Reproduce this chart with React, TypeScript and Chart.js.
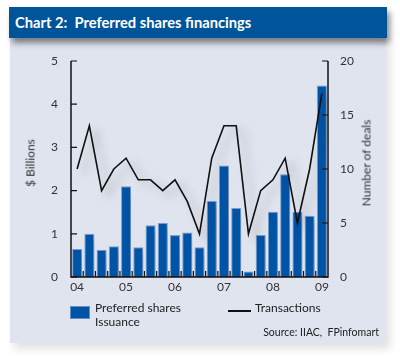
import React, { useEffect, useRef } from "react";
import { Chart, registerables } from "chart.js";

Chart.register(...registerables);

const quarters = [
  "2004Q1", "2004Q2", "2004Q3", "2004Q4",
  "2005Q1", "2005Q2", "2005Q3", "2005Q4",
  "2006Q1", "2006Q2", "2006Q3", "2006Q4",
  "2007Q1", "2007Q2", "2007Q3", "2007Q4",
  "2008Q1", "2008Q2", "2008Q3", "2008Q4",
  "2009Q1",
];
const yearLabels = ["04", "05", "06", "07", "08", "09"];
const issuance = [0.65, 1.0, 0.63, 0.71, 2.1, 0.69, 1.2, 1.25, 0.97, 1.03, 0.69, 1.76, 2.58, 1.6, 0.13, 0.97, 1.51, 2.38, 1.51, 1.42, 4.43];
const transactions = [10, 14, 8, 10, 11, 9, 9, 8, 9, 7, 4, 11, 14, 14, 4, 8, 9, 11, 5, 10, 17];
const leftTicks = [0, 1, 2, 3, 4, 5];
const rightTicks = [0, 5, 10, 15, 20];

const FONT = "Lato, 'Open Sans', sans-serif";
const BLUE = "#0153a6";

const axisPlugin = {
  id: "axisDeco",
  beforeDatasetsDraw(chart: any) {
    const ctx = chart.ctx;
    ctx.save();
    ctx.shadowColor = "rgba(60,60,70,0.35)";
    ctx.shadowBlur = 8;
    ctx.shadowOffsetX = 7;
    ctx.shadowOffsetY = 5;
  },
  afterDatasetsDraw(chart: any) {
    chart.ctx.restore();
  },
  afterDraw(chart: any) {
    const { ctx, chartArea } = chart;
    const { left, right, top, bottom } = chartArea;
    const yL = chart.scales.y;
    const yR = chart.scales.y1;
    const x = chart.scales.x;
    ctx.save();
    ctx.strokeStyle = "#111";
    ctx.lineWidth = 1.5;
    ctx.beginPath();
    ctx.moveTo(left, top);
    ctx.lineTo(left, bottom);
    ctx.lineTo(right, bottom);
    ctx.lineTo(right, top);
    ctx.stroke();
    ctx.lineWidth = 1.2;
    ctx.beginPath();
    leftTicks.forEach((v) => {
      const py = yL.getPixelForValue(v);
      ctx.moveTo(left, py);
      ctx.lineTo(left + 6, py);
    });
    rightTicks.forEach((v) => {
      const py = yR.getPixelForValue(v);
      ctx.moveTo(right, py);
      ctx.lineTo(right - 6, py);
    });
    for (let i = 1; i < quarters.length; i++) {
      const px = (x.getPixelForValue(i - 1) + x.getPixelForValue(i)) / 2;
      ctx.moveTo(px, bottom);
      ctx.lineTo(px, bottom - 6);
    }
    ctx.stroke();
    ctx.restore();
  },
};

export default function App() {
  const ref = useRef<HTMLCanvasElement | null>(null);
  useEffect(() => {
    if (!ref.current) return;
    const chart = new Chart(ref.current, {
      type: "bar",
      data: {
        labels: quarters,
        datasets: [
          {
            type: "line",
            label: "Transactions",
            data: transactions,
            yAxisID: "y1",
            borderColor: "#111",
            borderWidth: 1.6,
            pointRadius: 0,
            tension: 0,
            order: 0,
          },
          {
            type: "bar",
            label: "Preferred shares Issuance",
            data: issuance,
            yAxisID: "y",
            backgroundColor: BLUE,
            borderColor: "rgba(110,150,205,0.9)",
            borderWidth: 1,
            barPercentage: 0.82,
            categoryPercentage: 1,
            order: 1,
          },
        ],
      },
      options: {
        animation: false,
        responsive: false,
        maintainAspectRatio: false,
        layout: { padding: { left: 0, right: 0, top: 61, bottom: 61 } },
        plugins: { legend: { display: false }, tooltip: { enabled: false } },
        scales: {
          x: {
            offset: true,
            grid: { display: false, drawTicks: false },
            border: { display: false },
            afterFit: (s: any) => { s.height = 20; },
            ticks: {
              autoSkip: false,
              maxRotation: 0,
              padding: 3,
              color: "#333",
              font: { family: FONT, size: 12 },
              callback: (_v: any, i: number) => (i % 4 === 0 ? yearLabels[i / 4] : ""),
            },
          },
          y: {
            position: "left",
            min: 0,
            max: 5,
            grid: { display: false, drawTicks: false },
            border: { display: false },
            afterFit: (s: any) => { s.width = 71; },
            ticks: {
              stepSize: 1,
              padding: 13,
              color: "#333",
              font: { family: FONT, size: 12 },
            },
          },
          y1: {
            position: "right",
            min: 0,
            max: 20,
            grid: { display: false, drawTicks: false },
            border: { display: false },
            afterFit: (s: any) => { s.width = 72; },
            ticks: {
              stepSize: 5,
              padding: 12,
              color: "#333",
              font: { family: FONT, size: 12 },
            },
          },
        },
      },
      plugins: [axisPlugin],
    });
    return () => chart.destroy();
  }, []);

  const text: React.CSSProperties = { position: "absolute", fontFamily: FONT, color: "#222", whiteSpace: "nowrap" };

  return (
    <div style={{ position: "fixed", left: 0, top: 0, width: 400, height: 358, background: "#fff", overflow: "hidden" }}>
      <div style={{ position: "absolute", left: 10, top: 37, width: 376, height: 306, background: "#dfe4ee", boxShadow: "4px 6px 8px rgba(0,0,0,0.12)" }} />
      <div style={{ position: "absolute", left: 9, top: 7, width: 378, height: 31, background: "#00559a", boxShadow: "3px 5px 6px rgba(0,0,0,0.45)" }}>
        <div style={{ position: "absolute", left: 6, top: 6, color: "#fff", fontFamily: FONT, fontWeight: 700, fontSize: 14.7, whiteSpace: "nowrap" }}>
          Chart 2:&nbsp; Preferred shares financings
        </div>
      </div>
      <canvas ref={ref} width={400} height={358} style={{ position: "absolute", left: 0, top: 0, width: 400, height: 358 }} />
      <div style={{ ...text, left: 30, top: 163, fontSize: 12, color: "#333", transform: "translate(-50%,-50%) rotate(-90deg)" }}>$ Billions</div>
      <div style={{ ...text, left: 366, top: 163, fontSize: 12, color: "#333", transform: "translate(-50%,-50%) rotate(-90deg)" }}>Number of deals</div>
      <div style={{ position: "absolute", left: 70, top: 306, width: 20, height: 13, background: BLUE, border: "1px solid rgba(110,150,205,0.9)", boxSizing: "border-box" }} />
      <div style={{ ...text, left: 95, top: 301, fontSize: 12, lineHeight: "14px" }}>Preferred shares<br />Issuance</div>
      <div style={{ position: "absolute", left: 228, top: 310, width: 23, height: 2, background: "#111" }} />
      <div style={{ ...text, left: 255, top: 301, fontSize: 12, lineHeight: "14px" }}>Transactions</div>
      <div style={{ ...text, right: 21, top: 325, fontSize: 10.5, lineHeight: "14px" }}>Source: IIAC,&nbsp; FPinfomart</div>
    </div>
  );
}
